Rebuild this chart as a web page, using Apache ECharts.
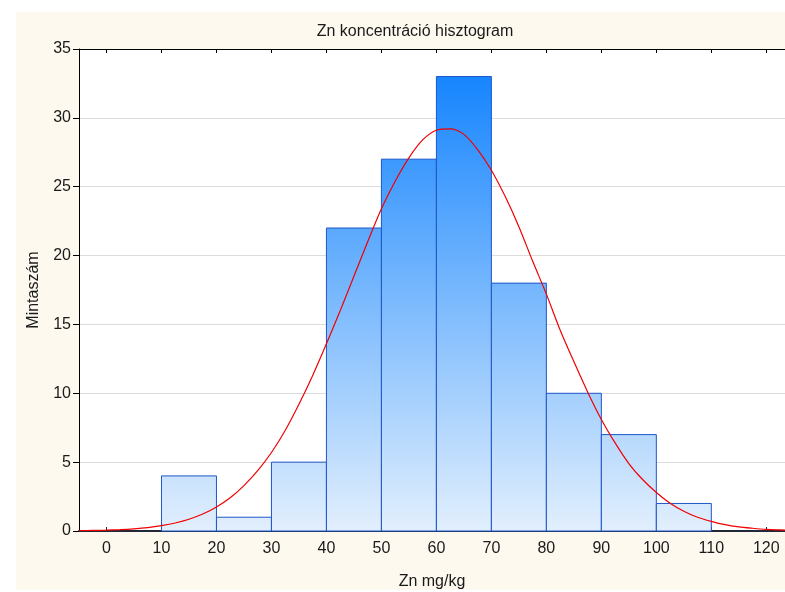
<!DOCTYPE html>
<html>
<head>
<meta charset="utf-8">
<script src="https://cdn.jsdelivr.net/npm/echarts@6/dist/echarts.min.js"></script>
<style>
html,body{margin:0;padding:0;background:#ffffff;}
#chart{width:785px;height:592px;}
</style>
</head>
<body>
<div id="chart"></div>
<script>
// Histogram bins (Zn mg/kg)
var binStarts = [10, 20, 30, 40, 50, 60, 70, 80, 90, 100];
var binEnds   = [20, 30, 40, 50, 60, 70, 80, 90, 100, 110];
var binCounts = [4, 1, 5, 22, 27, 33, 18, 10, 7, 2];

// Fitted normal curve
var curveX = [-5, -2.5, 0, 2.5, 5, 7.5, 10, 12.5, 15, 17.5, 20, 22.5, 25, 27.5, 30, 32.5, 35, 37.5, 40, 42.5, 45, 47.5, 50, 52.5, 55, 57.5, 60, 62.5, 65, 67.5, 70, 72.5, 75, 77.5, 80, 82.5, 85, 87.5, 90, 92.5, 95, 97.5, 100, 102.5, 105, 107.5, 110, 112.5, 115, 117.5, 120, 122.5, 125];
var curveY = [0.02, 0.04, 0.06, 0.1, 0.16, 0.25, 0.39, 0.58, 0.85, 1.23, 1.75, 2.42, 3.3, 4.38, 5.7, 7.3, 9.2, 11.3, 13.6, 16.0, 18.5, 21.0, 23.4, 25.4, 27.1, 28.4, 29.1, 29.2, 28.8, 27.7, 26.2, 24.3, 22.1, 19.6, 17.2, 14.6, 12.3, 10.1, 8.1, 6.4, 4.9, 3.74, 2.8, 2.02, 1.44, 1.0, 0.7, 0.46, 0.3, 0.2, 0.12, 0.08, 0.05];

var xTicks = [0, 10, 20, 30, 40, 50, 60, 70, 80, 90, 100, 110, 120];

var chart = echarts.init(document.getElementById('chart'));

var barData = binStarts.map(function (s, i) { return [s, binEnds[i], binCounts[i]]; });
var curveData = curveX.map(function (x, i) { return [x, curveY[i]]; });

var font = '"Liberation Sans", Arial, sans-serif';
var txt = '#1a1a1a';

chart.setOption({
  animation: false,
  backgroundColor: '#ffffff',
  graphic: [{
    type: 'rect', z: -10, silent: true,
    shape: { x: 16, y: 12, width: 769, height: 578 },
    style: { fill: '#fdf9ef' }
  }],
  title: {
    text: 'Zn koncentráció hisztogram',
    left: 410, top: 19, textAlign: 'center',
    textStyle: { fontFamily: font, fontSize: 16, fontWeight: 'normal', color: txt }
  },
  grid: { left: 79, right: 0, top: 49, bottom: 61, outerBoundsMode: 'none', containLabel: false,
          show: true, backgroundColor: '#ffffff', borderWidth: 0 },
  xAxis: [{
    type: 'value', min: -5, max: 123.4, position: 'bottom',
    name: 'Zn mg/kg', nameLocation: 'middle', nameGap: 43,
    nameTextStyle: { fontFamily: font, fontSize: 16, color: txt },
    axisLine: { onZero: false, lineStyle: { color: '#222838', width: 2 } },
    axisTick: { inside: true, length: 4, customValues: xTicks, lineStyle: { color: '#222838' } },
    axisLabel: { customValues: xTicks, fontFamily: font, fontSize: 16, color: txt, margin: 10 },
    splitLine: { show: false }
  }, {
    type: 'value', min: -5, max: 123.4, position: 'top',
    axisLine: { onZero: false, lineStyle: { color: '#000', width: 1 } },
    axisTick: { inside: true, length: 4, customValues: xTicks, lineStyle: { color: '#000' } },
    axisLabel: { show: false },
    splitLine: { show: false }
  }],
  yAxis: {
    type: 'value', min: 0, max: 35, interval: 5,
    name: 'Mintaszám', nameLocation: 'middle', nameGap: 37, nameRotate: 90,
    nameTextStyle: { fontFamily: font, fontSize: 16, color: txt },
    axisLine: { show: true, onZero: false, lineStyle: { color: '#000', width: 1 } },
    axisTick: { show: true, inside: false, length: 6, lineStyle: { color: '#000' } },
    axisLabel: { fontFamily: font, fontSize: 16, color: txt, margin: 8 },
    splitLine: { show: true, lineStyle: { color: '#dcdcdc', width: 1 } }
  },
  series: [{
    type: 'custom',
    xAxisIndex: 0,
    z: 2,
    data: barData,
    renderItem: function (params, api) {
      var p0 = api.coord([api.value(0), api.value(2)]);
      var p1 = api.coord([api.value(1), 0]);
      var top = api.coord([0, 35]);
      var bot = api.coord([0, 0]);
      return {
        type: 'rect',
        shape: { x: p0[0], y: p0[1], width: p1[0] - p0[0], height: p1[1] - p0[1] },
        style: {
          fill: new echarts.graphic.LinearGradient(0, top[1], 0, bot[1], [
            { offset: 0, color: '#0a7ffe' },
            { offset: 1, color: '#e2effd' }
          ], true),
          stroke: '#1e56c8',
          lineWidth: 1
        }
      };
    }
  }, {
    type: 'line',
    xAxisIndex: 0,
    z: 5,
    data: curveData,
    smooth: 0.3,
    showSymbol: false,
    symbol: 'none',
    clip: true,
    lineStyle: { color: '#f00000', width: 1.2 }
  }]
});
</script>
</body>
</html>
